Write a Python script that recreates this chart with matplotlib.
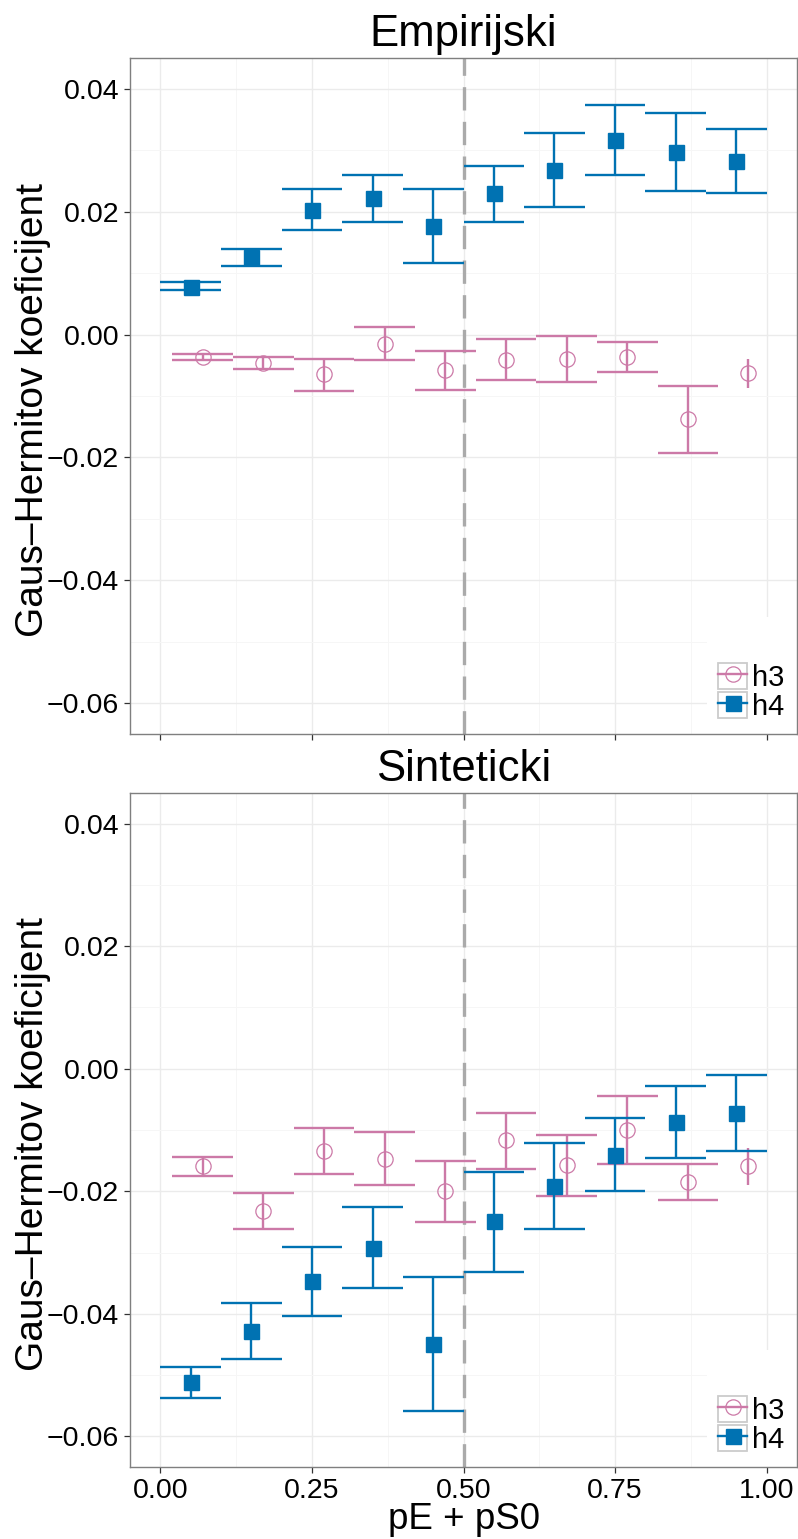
import matplotlib
matplotlib.use("Agg")
import matplotlib.pyplot as plt
from matplotlib.legend_handler import HandlerLine2D
from matplotlib.lines import Line2D
from matplotlib.patches import Rectangle
from matplotlib.ticker import MultipleLocator, FuncFormatter

plt.rcParams["font.family"] = ["Liberation Sans", "DejaVu Sans"]

# bin centres (h3 points are shifted right so the two series do not overlap)
x_h4 = [0.05, 0.15, 0.25, 0.35, 0.45, 0.55, 0.65, 0.75, 0.85, 0.95]
x_h3 = [0.07, 0.17, 0.27, 0.37, 0.47, 0.57, 0.67, 0.77, 0.87, 0.97]
cap_half = 0.05

# Empirical sample
emp_h3 = [-0.0036, -0.0046, -0.0065, -0.0015, -0.0058, -0.0041, -0.0040, -0.0036, -0.0138, -0.0063]
emp_h3_hi = [-0.0031, -0.0036, -0.0039, 0.0012, -0.0026, -0.0008, -0.0003, -0.0012, -0.0083, -0.0040]
emp_h3_lo = [-0.0042, -0.0056, -0.0092, -0.0041, -0.0091, -0.0074, -0.0077, -0.0061, -0.0193, -0.0087]
emp_h4 = [0.0078, 0.0126, 0.0203, 0.0222, 0.0177, 0.0230, 0.0268, 0.0317, 0.0297, 0.0282]
emp_h4_hi = [0.0085, 0.0140, 0.0237, 0.0260, 0.0237, 0.0275, 0.0328, 0.0374, 0.0361, 0.0334]
emp_h4_lo = [0.0072, 0.0112, 0.0170, 0.0183, 0.0117, 0.0183, 0.0208, 0.0260, 0.0234, 0.0230]

# Synthetic sample
sin_h3 = [-0.0159, -0.0232, -0.0134, -0.0147, -0.0200, -0.0117, -0.0157, -0.0100, -0.0185, -0.0158]
sin_h3_hi = [-0.0144, -0.0203, -0.0097, -0.0104, -0.0150, -0.0072, -0.0108, -0.0044, -0.0155, -0.0129]
sin_h3_lo = [-0.0175, -0.0262, -0.0172, -0.0189, -0.0250, -0.0163, -0.0208, -0.0156, -0.0215, -0.0189]
sin_h4 = [-0.0511, -0.0428, -0.0347, -0.0292, -0.0449, -0.0249, -0.0191, -0.0140, -0.0087, -0.0072]
sin_h4_hi = [-0.0487, -0.0383, -0.0291, -0.0226, -0.0340, -0.0168, -0.0121, -0.0081, -0.0028, -0.0010]
sin_h4_lo = [-0.0537, -0.0473, -0.0403, -0.0358, -0.0558, -0.0332, -0.0262, -0.0200, -0.0145, -0.0135]

titles = ["Empirijski", "Sinteticki"]
split_x = 0.5

PINK = "#CC79A7"
BLUE = "#0072B2"
LW = 1.7


class BoxedKey(HandlerLine2D):
    """Legend key with a light grey square frame around the symbol."""

    def create_artists(self, legend, orig_handle, xdescent, ydescent,
                       width, height, fontsize, trans):
        arts = super().create_artists(legend, orig_handle, xdescent, ydescent,
                                      width, height, fontsize, trans)
        box = Rectangle((-xdescent, -ydescent), width, height,
                        facecolor="white", edgecolor="#CCCCCC", lw=1.3,
                        transform=trans)
        return [box] + list(arts)


def fmt(v, _pos):
    return f"{v:.2f}".replace("-", "\u2212")


def draw_series(ax, xs, ys, lo, hi, color, marker, filled):
    ax.vlines(xs, lo, hi, colors=color, lw=LW, zorder=3)
    for x, l, h in zip(xs, lo, hi):
        if x + cap_half <= 1.0:
            ax.hlines([l, h], x - cap_half, x + cap_half, colors=color,
                      lw=LW, zorder=3)
    if filled:
        ax.plot(xs, ys, ls="none", marker=marker, ms=10.8, color=color,
                mec=color, zorder=4)
    else:
        ax.plot(xs, ys, ls="none", marker=marker, ms=11, mfc="none",
                mec=color, mew=0.9, zorder=4)


fig = plt.figure(figsize=(7.98, 15.39), dpi=100)
W, H = 798, 1539
panels = [(58, 734), (793, 1467)]
data = [
    (emp_h3, emp_h3_lo, emp_h3_hi, emp_h4, emp_h4_lo, emp_h4_hi),
    (sin_h3, sin_h3_lo, sin_h3_hi, sin_h4, sin_h4_lo, sin_h4_hi),
]

for i, ((top, bot), title, d) in enumerate(zip(panels, titles, data)):
    ax = fig.add_axes([130 / W, 1 - bot / H, 667 / W, (bot - top) / H])
    h3, h3lo, h3hi, h4, h4lo, h4hi = d

    ax.set_xlim(-0.05, 1.05)
    ax.set_ylim(-0.065, 0.045)
    ax.set_axisbelow(True)
    ax.xaxis.set_major_locator(MultipleLocator(0.25))
    ax.xaxis.set_minor_locator(MultipleLocator(0.125))
    ax.yaxis.set_major_locator(MultipleLocator(0.02))
    ax.yaxis.set_minor_locator(MultipleLocator(0.01))
    ax.xaxis.set_major_formatter(FuncFormatter(fmt))
    ax.yaxis.set_major_formatter(FuncFormatter(fmt))
    ax.grid(which="major", color="#EBEBEB", lw=1.0)
    ax.grid(which="minor", color="#F6F6F6", lw=0.7)
    ax.tick_params(which="minor", length=0)
    ax.tick_params(which="major", direction="out", length=4.3, width=0.9,
                   color="#333333", labelsize=20.5, pad=3.5, labelcolor="black")
    for s in ax.spines.values():
        s.set_color("#7F7F7F")
        s.set_linewidth(1.0)

    ax.axvline(split_x, color="#AAAAAA", lw=2.4, ls=(0, (7.0, 3.4)), zorder=2)

    draw_series(ax, x_h3, h3, h3lo, h3hi, PINK, "o", False)
    draw_series(ax, x_h4, h4, h4lo, h4hi, BLUE, "s", True)

    ax.set_title(title, fontsize=31.5, pad=8.5)
    ax.set_ylabel("Gaus\u2013Hermitov koeficijent", fontsize=28)
    ax.yaxis.label.set_va("center")
    ax.yaxis.set_label_coords(-0.1454, 0.479)
    if i == 0:
        ax.tick_params(axis="x", labelbottom=False)
    else:
        ax.set_xlabel("pE + pS0", fontsize=26.5)
        ax.xaxis.label.set_va("baseline")
        ax.xaxis.set_label_coords(0.5, -0.092)

    # white backdrop behind the legend
    ax.add_patch(Rectangle((0.865, 0.0), 0.135, 0.173, transform=ax.transAxes,
                           facecolor="white", edgecolor="none", zorder=1))

    handles = [
        Line2D([], [], color=PINK, lw=LW, marker="o", ms=11, mfc="none",
               mec=PINK, mew=0.9),
        Line2D([], [], color=BLUE, lw=LW, marker="s", ms=10.8, mfc=BLUE,
               mec=BLUE),
    ]
    leg = ax.legend(handles, ["h3", "h4"], loc="lower right", fontsize=21,
                    handlelength=1.0, handleheight=1.0, handletextpad=0.15,
                    labelspacing=0.0, borderpad=0.3, borderaxespad=0.15,
                    frameon=False,
                    handler_map={Line2D: BoxedKey(marker_pad=0.05, numpoints=1)})
    leg.set_zorder(5)

fig.savefig("out.png", dpi=100)
